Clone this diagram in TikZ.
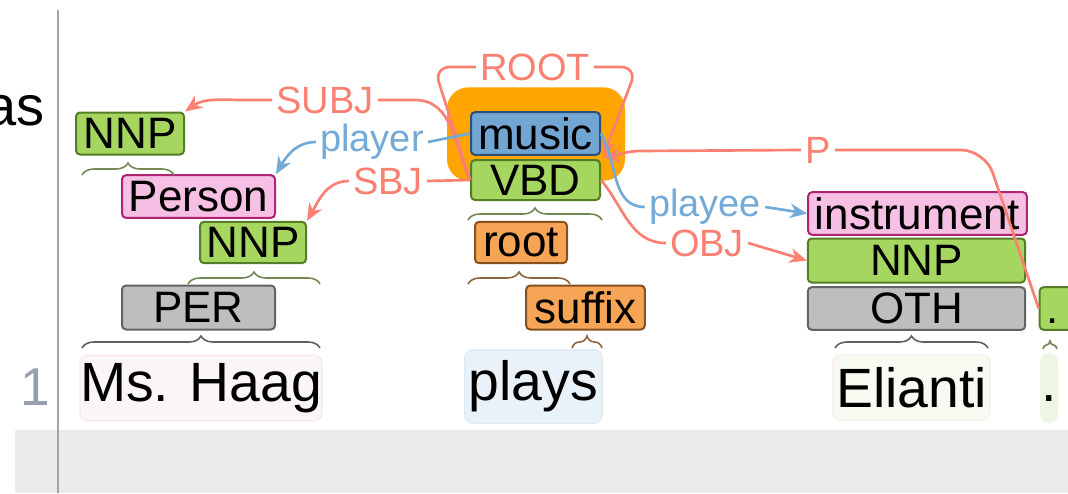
\documentclass[tikz,border=0pt]{standalone}
\usepackage{fontspec}
\setmainfont{Liberation Sans}
\usetikzlibrary{arrows.meta,decorations.pathreplacing}
\definecolor{salm}{RGB}{250,128,114}
\definecolor{arcblue}{RGB}{115,170,215}
\definecolor{gfill}{RGB}{165,214,95}
\definecolor{gdraw}{RGB}{85,125,40}
\definecolor{pfill}{RGB}{245,192,228}
\definecolor{pdraw}{RGB}{175,35,115}
\definecolor{grfill}{RGB}{190,190,190}
\definecolor{grdraw}{RGB}{100,100,100}
\definecolor{ofill}{RGB}{245,165,85}
\definecolor{odraw}{RGB}{135,80,30}
\definecolor{bfill}{RGB}{115,165,210}
\definecolor{bdraw}{RGB}{45,80,120}
\definecolor{hlorange}{RGB}{255,165,0}
\definecolor{bandgray}{RGB}{235,235,235}
\definecolor{rulegray}{RGB}{165,165,165}
\definecolor{numgray}{RGB}{150,160,172}
\definecolor{bracegreen}{RGB}{115,135,85}
\definecolor{bracegray}{RGB}{95,95,95}
\definecolor{bracebrown}{RGB}{140,100,60}
\tikzset{
  lbl/.style={draw, rounded corners=3pt, line width=1.5pt, inner sep=0pt,
    font=\fontsize{33}{35}\selectfont, text=black},
  gbox/.style={lbl, fill=gfill, draw=gdraw},
  pbox/.style={lbl, fill=pfill, draw=pdraw},
  grbox/.style={lbl, fill=grfill, draw=grdraw},
  obox/.style={lbl, fill=ofill, draw=odraw},
  bbox/.style={lbl, fill=bfill, draw=bdraw},
  arclbl/.style={font=\fontsize{28.5}{30}\selectfont, inner xsep=3pt, inner ysep=2pt},
  redlbl/.style={arclbl, text=salm},
  bluelbl/.style={arclbl, text=arcblue},
  redarc/.style={draw=salm, line width=2pt},
  bluearc/.style={draw=arcblue, line width=2pt},
  tip/.style={-{Stealth[length=13pt,width=11pt]}},
  word/.style={font=\fontsize{41.5}{46}\selectfont, rounded corners=6pt, inner sep=0pt, line width=1pt},
  brc/.style={decorate, decoration={brace, amplitude=9pt}, line width=1.2pt},
}
\begin{document}
\begin{tikzpicture}[x=0.75pt, y=-0.75pt]
\useasboundingbox (0,0) rectangle (1068,493);
% background band and ruler
\fill[bandgray] (15,430) rectangle (1068,493);
\draw[rulegray, line width=2.2pt] (58,10) -- (58,493);
\node[font=\fontsize{42}{46}\selectfont, anchor=base east, inner sep=0pt] (cut) at (45,125) {as};
\node[font=\fontsize{40}{44}\selectfont, text=numgray, inner sep=0pt] (num) at (35,387) {1};

% words
\node[word, fill={rgb,255:red,250;green,245;blue,248}, draw={rgb,255:red,250;green,232;blue,238}, minimum width=181.5pt, minimum height=49pt] (w1) at (201,388) {Ms. Haag};
\node[word, fill={rgb,255:red,233;green,242;blue,248}, draw={rgb,255:red,222;green,235;blue,246}, minimum width=103pt, minimum height=55pt] (w2) at (533.5,386.5) {plays};
\node[word, fill={rgb,255:red,246;green,250;blue,240}, draw={rgb,255:red,250;green,238;blue,240}, minimum width=118pt, minimum height=49pt] (w3) at (911.5,387.5) {Elianti};
\node[word, fill={rgb,255:red,236;green,246;blue,226}, minimum width=13.5pt, minimum height=52pt] (w4) at (1049,388) {\vphantom{Hg}.};

% highlight
\node[fill=hlorange, rounded corners=16pt, minimum width=133.5pt, minimum height=70pt, inner sep=0pt] (hl) at (536,134) {};

% label boxes
\node[gbox, minimum width=81pt, minimum height=31.5pt] (nnpA) at (130,133.5) {NNP};
\node[pbox, minimum width=114.75pt, minimum height=32pt] (person) at (198.5,196.5) {Person};
\node[gbox, minimum width=79.5pt, minimum height=31pt] (nnpB) at (253,242.5) {NNP};
\node[grbox, minimum width=114.75pt, minimum height=33pt] (per) at (198.5,307.5) {PER};
\node[bbox, minimum width=96.75pt, minimum height=32pt] (music) at (535.5,133.5) {music};
\node[gbox, minimum width=96.75pt, minimum height=30pt] (vbd) at (535.5,180) {VBD};
\node[obox, minimum width=69pt, minimum height=31pt] (root) at (521,242.5) {root};
\node[obox, minimum width=89pt, minimum height=33pt] (suffix) at (585.5,307.5) {suffix};
\node[pbox, minimum width=164pt, minimum height=32pt] (instr) at (917.5,213.5) {instrument};
\node[gbox, minimum width=163pt, minimum height=33pt] (nnpC) at (916.5,260.5) {NNP};
\node[grbox, minimum width=163pt, minimum height=32pt] (oth) at (916.5,308.5) {OTH};
\node[gbox, minimum width=26pt, minimum height=32pt, text width=20pt, align=left] (dotbox) at (1057,308.5) {\hspace*{2pt}\vphantom{OTH}.};

% braces
\draw[brc, bracegreen] (82,175) -- (174,175);
\draw[brc, bracegreen] (188,284) -- (320,284);
\draw[brc, bracegray] (82,348) -- (320,348);
\draw[brc, bracegreen] (468,220) -- (602,220);
\draw[brc, bracebrown] (468,284) -- (570,284);
\draw[brc, bracebrown] (572,348) -- (602,348);
\draw[brc, bracegray] (835,348) -- (988,348);
\draw[brc, bracegreen, decoration={amplitude=6pt}] (1043,349) -- (1057,349);

% coordinates
\coordinate (tgt) at (603,157);
\coordinate (rootLc) at (434,67);
\coordinate (rootRc) at (637,67);
\coordinate (subjR) at (415,100);
\coordinate (subjL) at (245,100);
\coordinate (pL) at (640,151);
\coordinate (pR) at (985,150);

% ROOT
\node[redlbl] (rootl) at (535,67) {ROOT};
\draw[redarc, rounded corners=12pt] (rootl.west) -- (rootLc) -- (vbd.west);
\draw[redarc, rounded corners=12pt, tip] (rootl.east) -- (rootRc) -- (tgt);

% SUBJ
\node[redlbl] (subj) at (325,100) {SUBJ};
\draw[redarc] (subj.east) -- (subjR) to[out=0,in=115] (vbd.west);
\draw[redarc, tip] (subj.west) -- (subjL) to[out=180,in=35] (nnpA.north east);

% player
\node[bluelbl] (player) at (372,142) {player};
\draw[bluearc] (player.east) -- (music.west);
\draw[bluearc, tip] (player.west) to[out=180,in=60] (person.north east);

% SBJ
\node[redlbl] (sbj) at (388,181) {SBJ};
\draw[redarc] (sbj.east) -- (vbd.west);
\draw[redarc, tip] (sbj.west) to[out=180,in=60] (nnpB.north east);

% P
\node[redlbl] (plbl) at (818,150) {P};
\draw[redarc, tip] (plbl.west) -- (pL) to[out=180,in=5] (tgt);
\draw[redarc, rounded corners=18pt] (plbl.east) -- (pR) -- (dotbox.west);

% playee
\node[bluelbl] (playee) at (705,207) {playee};
\draw[bluearc] (music.east) to[out=-60,in=180] (playee.west);
\draw[bluearc, tip] (playee.east) -- (instr.west);

% OBJ
\node[redlbl] (obj) at (707,243) {OBJ};
\draw[redarc] (vbd.east) to[out=-50,in=180] (obj.west);
\draw[redarc, tip] (obj.east) -- (nnpC.west);
\end{tikzpicture}
\end{document}
